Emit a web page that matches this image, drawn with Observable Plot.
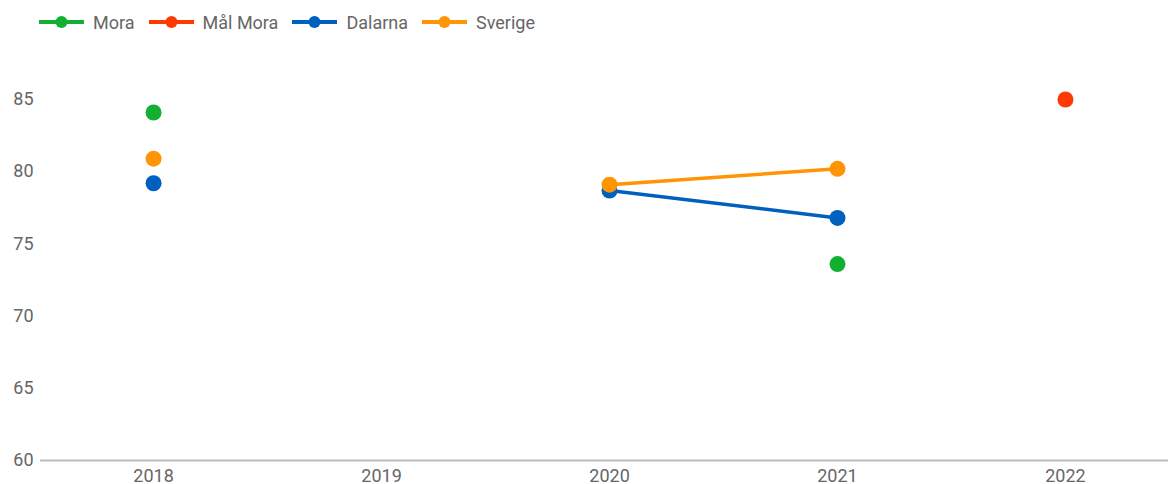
<!DOCTYPE html>
<html>
<head>
<meta charset="utf-8">
<script src="https://cdn.jsdelivr.net/npm/d3@7"></script>
<script src="https://cdn.jsdelivr.net/npm/@observablehq/plot@0.6"></script>
<style>
  body { margin: 0; background: #fff; font-family: Roboto, sans-serif; }
  #legend { height: 44px; display: flex; align-items: center; padding-left: 39px; font-size: 18px; color: #666; }
  .item { display: flex; align-items: center; margin-right: 14px; }
  .item svg { margin-right: 9px; }
</style>
</head>
<body>
<div id="legend"></div>
<div id="chart"></div>
<script>
const years = [2018, 2019, 2020, 2021, 2022];
const seriesNames = ["Mora", "Mål Mora", "Dalarna", "Sverige"];
const colors = ["#12b031", "#ff3a00", "#0060bf", "#ff9505"];
const mora    = [84.1, null, null, 73.6, null];
const malMora = [null, null, null, null, 85.0];
const dalarna = [79.2, null, 78.7, 76.8, null];
const sverige = [80.9, null, 79.1, 80.2, null];
const yTicks = [60, 65, 70, 75, 80, 85];

const values = [mora, malMora, dalarna, sverige];
const data = [];
seriesNames.forEach((s, i) => years.forEach((y, j) => data.push({series: s, year: y, value: values[i][j]})));
const defined = data.filter(d => d.value != null);

// legend
const legend = document.getElementById("legend");
seriesNames.forEach((s, i) => {
  const it = document.createElement("div");
  it.className = "item";
  it.innerHTML = `<svg width="45" height="14"><line x1="0" x2="45" y1="7" y2="7" stroke="${colors[i]}" stroke-width="4"/><circle cx="22.5" cy="7" r="6" fill="${colors[i]}"/></svg><span>${s}</span>`;
  legend.appendChild(it);
});

const chart = Plot.plot({
  width: 1168,
  height: 440,
  marginLeft: 40,
  marginRight: 0,
  marginTop: 55,
  marginBottom: 24,
  style: { fontFamily: "Roboto, sans-serif", fontSize: "18px", color: "#666", background: "#fff", overflow: "visible" },
  x: { type: "linear", domain: [2017.504, 2022.452], ticks: years, tickFormat: d => String(d), tickSize: 0, tickPadding: 9, label: null },
  y: { domain: [60, 85], ticks: yTicks, tickSize: 0, tickPadding: 7, label: null },
  color: { domain: seriesNames, range: colors },
  marks: [
    Plot.ruleY([60], { stroke: "#bbb", strokeWidth: 2 }),
    Plot.line(data, { x: "year", y: d => d.value == null ? NaN : d.value, z: "series", stroke: "series", strokeWidth: 3.5 }),
    Plot.dot(defined, { x: "year", y: "value", fill: "series", r: 8, stroke: "none" })
  ]
});
document.getElementById("chart").appendChild(chart);
</script>
</body>
</html>
